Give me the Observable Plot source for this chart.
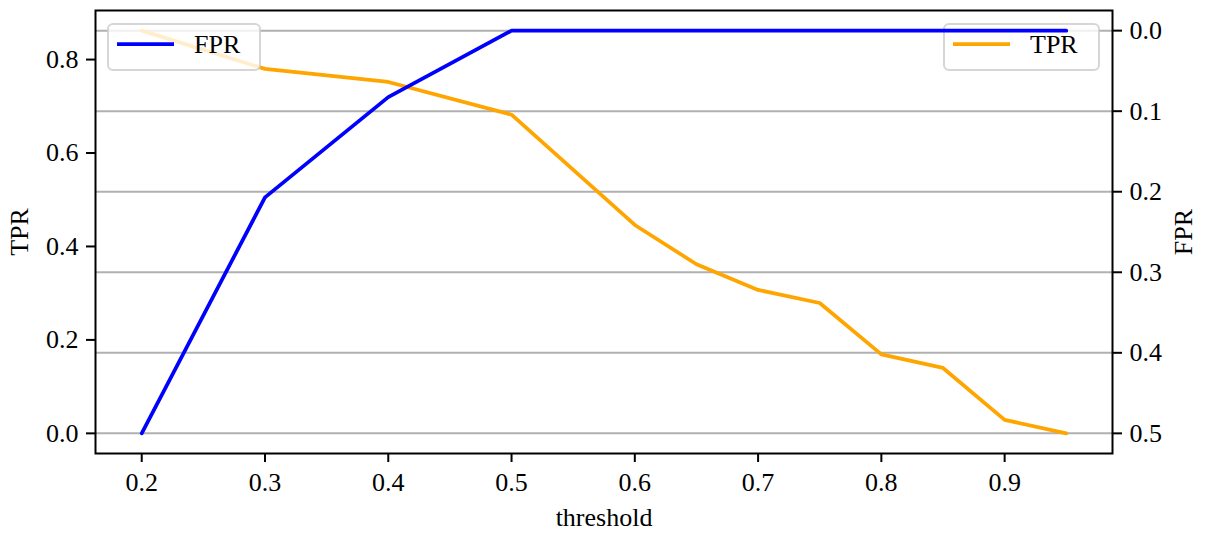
<!DOCTYPE html>
<html>
<head>
<meta charset="utf-8">
<script src="https://cdn.jsdelivr.net/npm/d3@7"></script>
<script src="https://cdn.jsdelivr.net/npm/@observablehq/plot@0.6"></script>
<style>
  html, body { margin: 0; padding: 0; background: #fff; }
</style>
</head>
<body>
<div id="chart"></div>
<script>
const thresholds = [0.2, 0.3, 0.4, 0.5, 0.6, 0.65, 0.7, 0.75, 0.8, 0.85, 0.9, 0.95];
const tprValues  = [0.862, 0.780, 0.752, 0.682, 0.446, 0.362, 0.307, 0.279, 0.169, 0.140, 0.029, 0.0];
const fprValues  = [0.5, 0.207, 0.0825, 0, 0, 0, 0, 0, 0, 0, 0, 0];
const xTicks   = [0.2, 0.3, 0.4, 0.5, 0.6, 0.7, 0.8, 0.9];
const tprTicks = [0.0, 0.2, 0.4, 0.6, 0.8];
const fprTicks = [0.0, 0.1, 0.2, 0.3, 0.4, 0.5];

const data = thresholds.map((t, i) => ({threshold: t, tpr: tprValues[i], fpr: fprValues[i]}));

const font = "Liberation Serif, DejaVu Serif, serif";
const fs = 26;
const yDomain = [-0.0431, 0.905];
// right (FPR) axis is inverted: FPR -0.025 at top, 0.525 at bottom
const fprToY = d3.scaleLinear().domain([-0.025, 0.525]).range([yDomain[1], yDomain[0]]);

function legend(side, label, color) {
  return (index, scales, values, dims) => {
    const g = d3.create("svg:g");
    const w = side === "left" ? 152 : 155;
    const h = 46;
    const x0 = side === "left" ? dims.marginLeft + 13 : dims.width - dims.marginRight - 13 - w;
    const y0 = dims.marginTop + 14;
    g.append("rect").attr("x", x0).attr("y", y0).attr("width", w).attr("height", h)
      .attr("rx", 5).attr("fill", "white").attr("fill-opacity", 0.8)
      .attr("stroke", "#cccccc").attr("stroke-opacity", 0.8).attr("stroke-width", 2);
    g.append("line").attr("x1", x0 + 9).attr("x2", x0 + 66).attr("y1", y0 + 20).attr("y2", y0 + 20)
      .attr("stroke", color).attr("stroke-width", 3.75);
    g.append("text").attr("x", x0 + 86).attr("y", y0 + 29).attr("font-family", font)
      .attr("text-anchor", "start")
      .attr("font-size", fs).attr("fill", "black").text(label);
    return g.node();
  };
}

const chart = Plot.plot({
  width: 1205,
  height: 534,
  marginLeft: 95,
  marginRight: 93,
  marginTop: 10,
  marginBottom: 81,
  style: {fontFamily: font, fontSize: fs + "px", background: "white", color: "black"},
  x: {domain: [0.1625, 0.9875]},
  y: {domain: yDomain},
  marks: [
    Plot.ruleY(fprTicks, {y: d => fprToY(d), stroke: "#b0b0b0", strokeWidth: 2}),
    Plot.line(data, {x: "threshold", y: "tpr", stroke: "orange", strokeWidth: 3.75}),
    legend("right", "TPR", "orange"),
    Plot.line(data, {x: "threshold", y: d => fprToY(d.fpr), stroke: "blue", strokeWidth: 3.75}),
    legend("left", "FPR", "blue"),
    Plot.frame({stroke: "black", strokeWidth: 2}),
    Plot.axisX(xTicks, {tickSize: 9, tickPadding: 10, strokeWidth: 2, fontSize: fs,
      tickFormat: d3.format(".1f"), label: "threshold", labelAnchor: "center", labelArrow: "none", labelOffset: 72}),
    Plot.axisY(tprTicks, {anchor: "left", tickSize: 9, tickPadding: 8, strokeWidth: 2, fontSize: fs,
      tickFormat: d3.format(".1f"), label: "TPR", labelAnchor: "center", labelArrow: "none", labelOffset: 86}),
    Plot.axisY(fprTicks.map(fprToY), {anchor: "right", tickSize: 9, tickPadding: 8, strokeWidth: 2, fontSize: fs,
      tickFormat: v => d3.format(".1f")(Math.abs(fprToY.invert(v))), label: "FPR", labelAnchor: "center", labelArrow: "none", labelOffset: 79})
  ]
});
document.getElementById("chart").appendChild(chart);
</script>
</body>
</html>
